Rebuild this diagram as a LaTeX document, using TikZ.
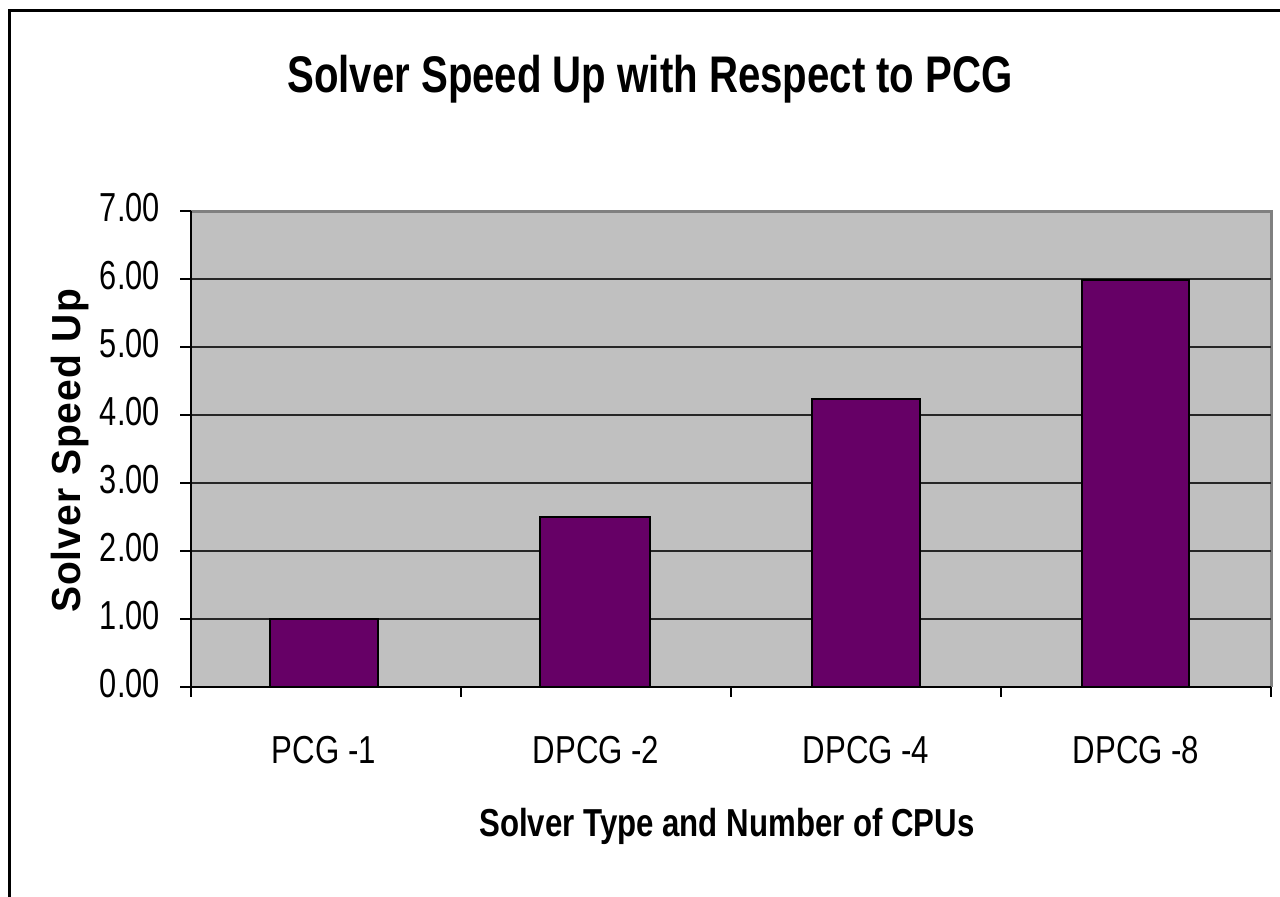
\documentclass[tikz,border=0pt]{standalone}
\usepackage{fontspec}
\setmainfont{Liberation Sans}
\definecolor{plotgray}{HTML}{C0C0C0}
\definecolor{barpurple}{HTML}{660066}
\definecolor{edgegray}{HTML}{808080}
\begin{document}
\begin{tikzpicture}[x=1pt,y=-1pt,
  bar/.style={draw=black, line width=2.5pt, fill=barpurple},
  gridline/.style={line width=2.5pt, black!85},
  axisline/.style={line width=2.5pt, black},
  ticklabel/.style={anchor=base east, inner sep=0pt, xscale=0.76, font=\fontsize{40.5}{40.5}\selectfont},
  catlabel/.style={anchor=base, inner sep=0pt, xscale=0.8, font=\fontsize{39}{39}\selectfont},
  titlelabel/.style={anchor=base, inner sep=0pt, xscale=0.78, font=\fontsize{51.5}{51.5}\selectfont\bfseries},
  axistitle/.style={anchor=base, inner sep=0pt, font=\fontsize{39}{39}\selectfont\bfseries}]
\useasboundingbox (0,0) rectangle (1280,897);
\fill[white] (0,0) rectangle (1280,897);
% outer chart frame (cut off at right and bottom)
\draw[line width=3pt] (9,905) -- (9,10) -- (1290,10);
% plot area
\fill[plotgray] (191,211) rectangle (1271,687);
\draw[edgegray, line width=3pt] (191,211) -- (1271,211) -- (1271,687);
% gridlines
\foreach \v in {1,...,6} {
  \draw[gridline] (191,{687-68*\v}) -- (1271,{687-68*\v});
}
% bars
\draw[bar] (270,687) rectangle (378,619);
\draw[bar] (540,687) rectangle (650,517);
\draw[bar] (812,687) rectangle (920,399);
\draw[bar] (1082,687) rectangle (1189,280);
% axes
\draw[axisline] (191,211) -- (191,697);
\draw[axisline] (191,687) -- (1271,687);
\foreach \v in {0,...,7} {
  \draw[axisline] (180,{687-68*\v}) -- (191,{687-68*\v});
}
\foreach \x in {461,731,1001,1271} {
  \draw[axisline] (\x,687) -- (\x,697);
}
% tick labels
\node[ticklabel] (t0) at (160,697) {0.00};
\node[ticklabel] (t1) at (160,629) {1.00};
\node[ticklabel] (t2) at (160,561) {2.00};
\node[ticklabel] (t3) at (160,493) {3.00};
\node[ticklabel] (t4) at (160,425) {4.00};
\node[ticklabel] (t5) at (160,357) {5.00};
\node[ticklabel] (t6) at (160,289) {6.00};
\node[ticklabel] (t7) at (160,221) {7.00};
% category labels
\node[catlabel] (c1) at (324,763) {PCG -1};
\node[catlabel] (c2) at (596,763) {DPCG -2};
\node[catlabel] (c3) at (866,763) {DPCG -4};
\node[catlabel] (c4) at (1136,763) {DPCG -8};
% titles
\node[titlelabel] (title) at (650,92) {Solver Speed Up with Respect to PCG};
\node[axistitle, xscale=0.8] (xtitle) at (727,836) {Solver Type and Number of CPUs};
\node[axistitle, rotate=90, yscale=1.04] (ytitle) at (80,451) {S\kern1pt o\kern1pt l\kern1pt v\kern1pt e\kern1pt r\kern2pt\ S\kern1pt p\kern1pt e\kern1pt e\kern1pt d\kern2pt\ U\kern1pt p};
\end{tikzpicture}
\end{document}
